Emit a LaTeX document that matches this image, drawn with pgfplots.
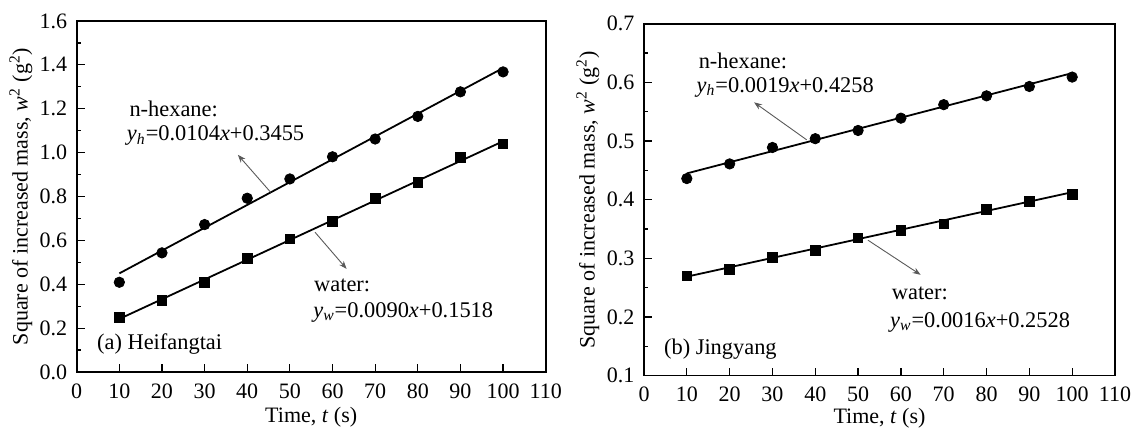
\documentclass[border=0pt]{standalone}
\usepackage{fontspec}
\setmainfont{Liberation Serif}
\usepackage{pgfplots}
\pgfplotsset{compat=1.18}
\usetikzlibrary{arrows.meta}

\pgfplotsset{
  panel/.style={
    scale only axis,
    xmin=0, xmax=110, xtick={0,10,...,110},
    tick align=inside, xtick pos=left, ytick pos=left,
    minor y tick num=1,
    major tick length=4pt, minor tick length=2pt,
    axis line style={line width=0.8pt},
    every tick/.style={black, line width=0.6pt},
    tick label style={font=\fontsize{11}{13}\selectfont},
    xticklabel style={yshift=-2.2pt},
    label style={font=\fontsize{11}{13}\selectfont},
    /pgf/number format/assume math mode=true,
    yticklabel style={xshift=-1.3pt, /pgf/number format/.cd, fixed, fixed zerofill, precision=1},
    ylabel style={at={(axis description cs:-0.119,0.5)}, anchor=center},
    xlabel={Time, \textit{t} (s)},
    ylabel={Square of increased mass, \textit{w}\textsuperscript{2} (g\textsuperscript{2})},
  },
  pts/.style={only marks, mark=#1, black, mark options={fill=black}},
  fit/.style={no marks, black, line width=0.9pt},
}
\tikzset{
  ann/.style={font=\fontsize{11.2}{13}\selectfont, anchor=west, inner sep=0pt},
  arr/.style={draw=black!65, line width=0.45pt, -{Stealth[length=4pt,width=3pt]}},
}

\begin{document}
\begin{tikzpicture}
\useasboundingbox (0,0) rectangle (568.5pt,215.5pt);

% (a) Heifangtai
\begin{axis}[panel, at={(38.35pt,29.5pt)}, anchor=south west,
  width=234.5pt, height=175.5pt,
  ymin=0, ymax=1.6, ytick={0,0.2,...,1.6},
  xlabel style={at={(axis description cs:0.5,-0.128)}, anchor=center},
]
\addplot[pts={*}, mark size=2.6pt] coordinates {
  (10,0.409) (20,0.543) (30,0.672) (40,0.792) (50,0.880)
  (60,0.981) (70,1.062) (80,1.165) (90,1.277) (100,1.368)};
\addplot[pts={square*}, mark size=2.4pt] coordinates {
  (10,0.250) (20,0.326) (30,0.409) (40,0.519) (50,0.607)
  (60,0.687) (70,0.792) (80,0.864) (90,0.978) (100,1.039)};
\addplot[fit] coordinates {(10,0.4495) (100,1.3855)};
\addplot[fit] coordinates {(10,0.2418) (100,1.0518)};
\draw[arr] (axis cs:45.5,0.819) -- (axis cs:37.8,0.990);
\draw[arr] (axis cs:55.9,0.637) -- (axis cs:63.3,0.470);
\node[ann] at (axis cs:12.3,1.198) {n-hexane:};
\node[ann] at (axis cs:11.7,1.077) {\textit{y}\textsubscript{\textit{h}}=0.0104\textit{x}+0.3455};
\node[ann] at (axis cs:55.6,0.394) {water:};
\node[ann] at (axis cs:55.4,0.273) {\textit{y}\textsubscript{\textit{w}}=0.0090\textit{x}+0.1518};
\node[ann] at (axis cs:4.7,0.129) {(a) Heifangtai};
\end{axis}

% (b) Jingyang
\begin{axis}[panel, at={(322pt,27.65pt)}, anchor=south west,
  width=235.5pt, height=176pt,
  ymin=0.1, ymax=0.7, ytick={0.1,0.2,...,0.7},
  xlabel style={at={(axis description cs:0.5,-0.121)}, anchor=center},
]
\addplot[pts={*}, mark size=2.6pt] coordinates {
  (10,0.436) (20,0.461) (30,0.489) (40,0.504) (50,0.518)
  (60,0.539) (70,0.562) (80,0.577) (90,0.593) (100,0.609)};
\addplot[pts={square*}, mark size=2.4pt] coordinates {
  (10,0.270) (20,0.281) (30,0.302) (40,0.314) (50,0.335)
  (60,0.348) (70,0.359) (80,0.383) (90,0.397) (100,0.409)};
\addplot[fit] coordinates {(10,0.4448) (100,0.6158)};
\addplot[fit] coordinates {(10,0.2688) (100,0.4128)};
\draw[arr] (axis cs:38.0,0.502) -- (axis cs:25.7,0.566);
\draw[arr] (axis cs:52.3,0.331) -- (axis cs:64.6,0.272);
\node[ann] at (axis cs:12.7,0.637) {n-hexane:};
\node[ann] at (axis cs:12.2,0.592) {\textit{y}\textsubscript{\textit{h}}=0.0019\textit{x}+0.4258};
\node[ann] at (axis cs:57.8,0.240) {water:};
\node[ann] at (axis cs:57.4,0.191) {\textit{y}\textsubscript{\textit{w}}=0.0016\textit{x}+0.2528};
\node[ann] at (axis cs:4.6,0.145) {(b) Jingyang};
\end{axis}
\end{tikzpicture}
\end{document}
